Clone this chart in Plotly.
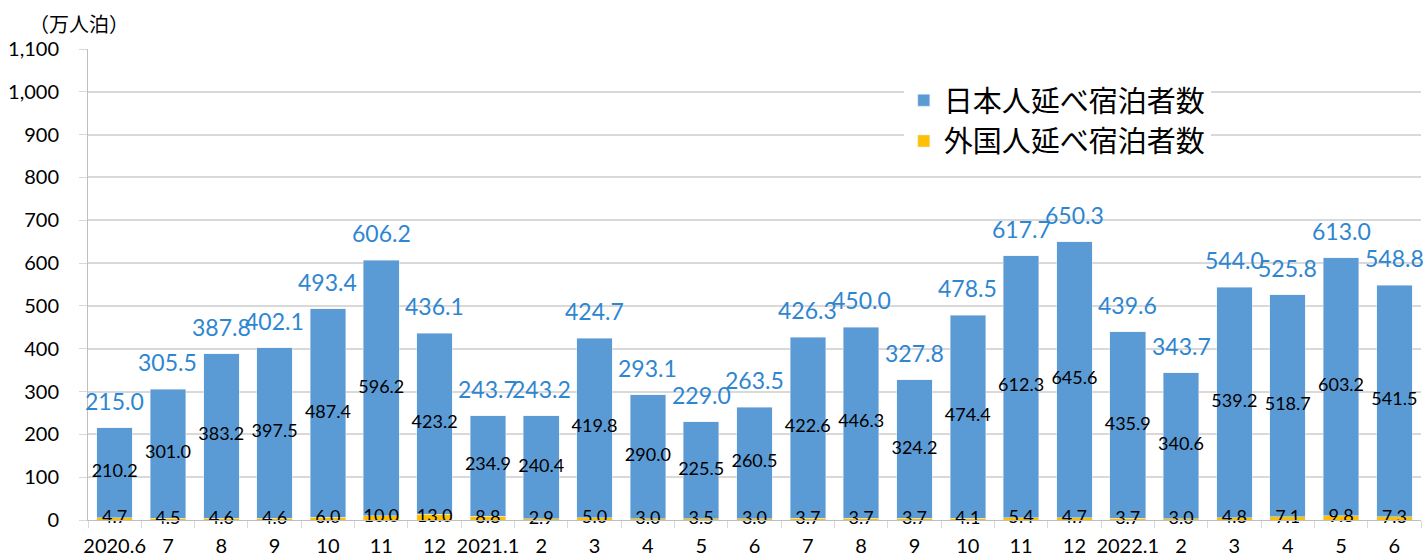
import plotly.graph_objects as go

months = ["2020.6", "7", "8", "9", "10", "11", "12", "2021.1", "2", "3", "4", "5", "6",
          "7", "8", "9", "10", "11", "12", "2022.1", "2", "3", "4", "5", "6"]
japanese = [210.2, 301.0, 383.2, 397.5, 487.4, 596.2, 423.2, 234.9, 240.4, 419.8, 290.0, 225.5, 260.5,
            422.6, 446.3, 324.2, 474.4, 612.3, 645.6, 435.9, 340.6, 539.2, 518.7, 603.2, 541.5]
foreign = [4.7, 4.5, 4.6, 4.6, 6.0, 10.0, 13.0, 8.8, 2.9, 5.0, 3.0, 3.5, 3.0,
           3.7, 3.7, 3.7, 4.1, 5.4, 4.7, 3.7, 3.0, 4.8, 7.1, 9.8, 7.3]
totals = [215.0, 305.5, 387.8, 402.1, 493.4, 606.2, 436.1, 243.7, 243.2, 424.7, 293.1, 229.0, 263.5,
          426.3, 450.0, 327.8, 478.5, 617.7, 650.3, 439.6, 343.7, 544.0, 525.8, 613.0, 548.8]

xs = list(range(len(months)))
FONT = "Lato, 'Noto Sans CJK JP', sans-serif"
JPFONT = "'Noto Sans CJK JP', sans-serif"

fig = go.Figure()
fig.add_trace(go.Bar(x=xs, y=foreign, name="外国人延べ宿泊者数", marker_color="#FFC000",
                     hoverinfo="skip"))
fig.add_trace(go.Bar(x=xs, y=japanese, name="日本人延べ宿泊者数", marker_color="#5B9BD5",
                     hoverinfo="skip"))

# Japanese values at segment centre
fig.add_trace(go.Scatter(x=xs, y=[f + j / 2 for f, j in zip(foreign, japanese)], mode="text",
                         text=[f"{v:.1f}" for v in japanese], textposition="middle center",
                         textfont=dict(size=18, color="#000000", family=FONT), cliponaxis=False,
                         showlegend=False, hoverinfo="skip"))
# Foreign values at segment centre
fig.add_trace(go.Scatter(x=xs, y=[f / 2 for f in foreign], mode="text",
                         text=[f"{v:.1f}" for v in foreign], textposition="middle center",
                         textfont=dict(size=18, color="#000000", family=FONT), cliponaxis=False,
                         showlegend=False, hoverinfo="skip"))

annotations = []
for x, t in zip(xs, totals):
    annotations.append(dict(x=x, y=t, xref="x", yref="y", text=f"{t:.1f}", showarrow=False,
                            yanchor="middle", yshift=27,
                            font=dict(size=23, color="#2E86D1", family=FONT)))
annotations.append(dict(x=0, y=1, xref="paper", yref="paper", text="（万人泊）", showarrow=False,
                        xanchor="right", yanchor="middle", xshift=43, yshift=26,
                        font=dict(size=20, color="#000000", family=JPFONT)))

fig.update_layout(
    width=1424, height=559,
    margin=dict(l=88, r=3, t=49, b=39),
    barmode="stack", bargap=0.333,
    plot_bgcolor="white", paper_bgcolor="white",
    font=dict(family=FONT, color="#000000", size=20),
    annotations=annotations,
    legend=dict(x=0.612, y=0.945, xanchor="left", yanchor="top", traceorder="reversed",
                font=dict(size=29, family=JPFONT, color="#000000"),
                bgcolor="white", itemwidth=30, tracegroupgap=0),
)
fig.update_xaxes(range=[-0.5, len(months) - 0.5], tickmode="array", tickvals=xs, ticktext=months,
                 ticks="", showgrid=False, showline=True, linecolor="#BFBFBF", linewidth=1,
                 ticklabelstandoff=8,
                 tickfont=dict(size=20, family=FONT, color="#000000"),
                 minor=dict(ticks="outside", tick0=-0.5, dtick=1, ticklen=7, tickcolor="#D9D9D9",
                            showgrid=False))
fig.update_yaxes(range=[0, 1100], dtick=100, tickformat=",", showgrid=True, gridcolor="#D9D9D9",
                 gridwidth=1.5, showline=True, linecolor="#BFBFBF", ticks="outside", ticklen=8,
                 tickcolor="#D9D9D9", zeroline=False, ticklabelstandoff=16,
                 tickfont=dict(size=20, family=FONT, color="#000000"))

fig.write_html("out.html", config={"displayModeBar": False},
               post_script="document.body.style.margin='0';document.body.style.overflow='hidden';")
